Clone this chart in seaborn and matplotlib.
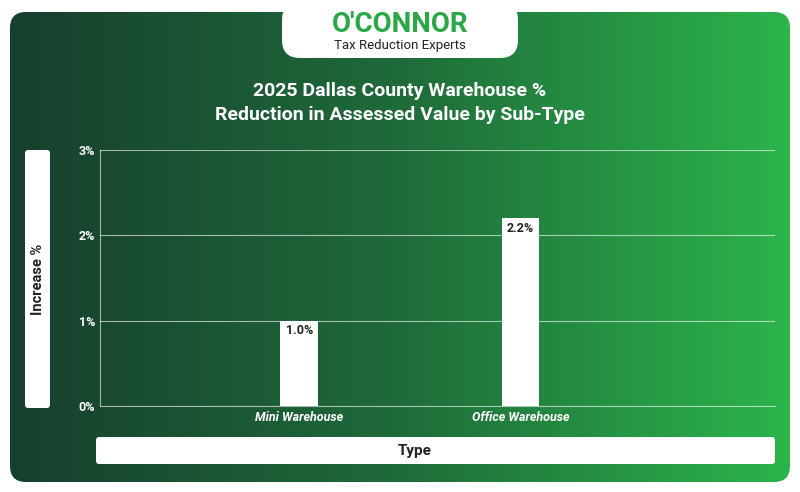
import numpy as np
import matplotlib
matplotlib.use("Agg")
import matplotlib.pyplot as plt
import seaborn as sns
import pandas as pd
from matplotlib.patches import FancyBboxPatch

categories = ["Mini Warehouse", "Office Warehouse"]
values = [1.0, 2.2]
yticks = [0, 1, 2, 3]
ytick_labels = ["0%", "1%", "2%", "3%"]

W, H = 800, 492
fig = plt.figure(figsize=(8, 4.92), dpi=100)
fig.patch.set_facecolor("white")
bg = fig.add_axes([0, 0, 1, 1]); bg.set_xlim(0, W); bg.set_ylim(H, 0); bg.axis("off")
# gradient background
grad = np.linspace(0, 1, 256)[None, :]
from matplotlib.colors import LinearSegmentedColormap
cmap = LinearSegmentedColormap.from_list("g", ["#173f2e", "#1f6b3a", "#2cb44b"])
im = bg.imshow(grad, cmap=cmap, extent=[10, 790, 482, 12], aspect="auto", zorder=0)
clip = FancyBboxPatch((10, 12), 780, 470, boxstyle="round,pad=0,rounding_size=16", transform=bg.transData, fc="none", ec="none")
bg.add_patch(clip); im.set_clip_path(clip)
# logo tab
bg.add_patch(FancyBboxPatch((282, 2), 236, 56, boxstyle="round,pad=0,rounding_size=18", fc="white", ec="none", zorder=2))
bg.text(400, 24, "O'CONNOR", ha="center", va="center", fontsize=20, fontweight="bold", color="#2aa845", family="Roboto", zorder=3)
bg.text(400, 46, "Tax Reduction Experts", ha="center", va="center", fontsize=9.5, color="#222222", family="Roboto", zorder=3)
bg.text(400, 103, "2025 Dallas County Warehouse %\nReduction in Assessed Value by Sub-Type", ha="center", va="center",
        fontsize=14, fontweight="bold", color="white", family="Roboto", linespacing=1.5, zorder=3)
# y label box
bg.add_patch(FancyBboxPatch((25, 150), 25, 258, boxstyle="round,pad=0,rounding_size=3", fc="white", ec="none", zorder=2))
bg.text(38, 279, "Increase %", rotation=90, ha="center", va="center", fontsize=10.5, fontweight="bold", color="#222", family="Roboto", zorder=3)
# x label box
bg.add_patch(FancyBboxPatch((96, 437), 679, 27, boxstyle="round,pad=0,rounding_size=3", fc="white", ec="none", zorder=2))
bg.text(415, 451, "Type", ha="center", va="center", fontsize=11, fontweight="bold", color="#222", family="Roboto", zorder=3)

ax = fig.add_axes([100/W, 1-406/H, 675/W, 256/H])
ax.set_facecolor("none")
df = pd.DataFrame({"Type": categories, "Value": values})
sns.barplot(data=df, x="Type", y="Value", color="white", width=0.17, ax=ax, zorder=3)
ax.set_xlim(-0.9, 2.15)
ax.set_ylim(0, 3)
ax.set_yticks(yticks); ax.set_yticklabels(ytick_labels)
ax.grid(axis="y", color="white", alpha=0.6, lw=0.8, zorder=0)
for s in ["top", "right"]: ax.spines[s].set_visible(False)
ax.spines["left"].set_color("white"); ax.spines["bottom"].set_color("white")
ax.spines["left"].set_alpha(0.6); ax.spines["bottom"].set_alpha(0.6)
ax.tick_params(colors="white", length=0, labelsize=9)
for t in ax.get_yticklabels(): t.set_fontweight("bold"); t.set_family("Roboto")
for t in ax.get_xticklabels(): t.set_fontweight("bold"); t.set_style("italic"); t.set_family("Roboto")
ax.set_xlabel(""); ax.set_ylabel("")
for i, v in enumerate(values):
    ax.text(i, v - 0.12, f"{v:.1f}%", ha="center", va="center", fontsize=9, fontweight="bold", color="#222", family="Roboto", zorder=5)
fig.savefig("out.png", dpi=100)
